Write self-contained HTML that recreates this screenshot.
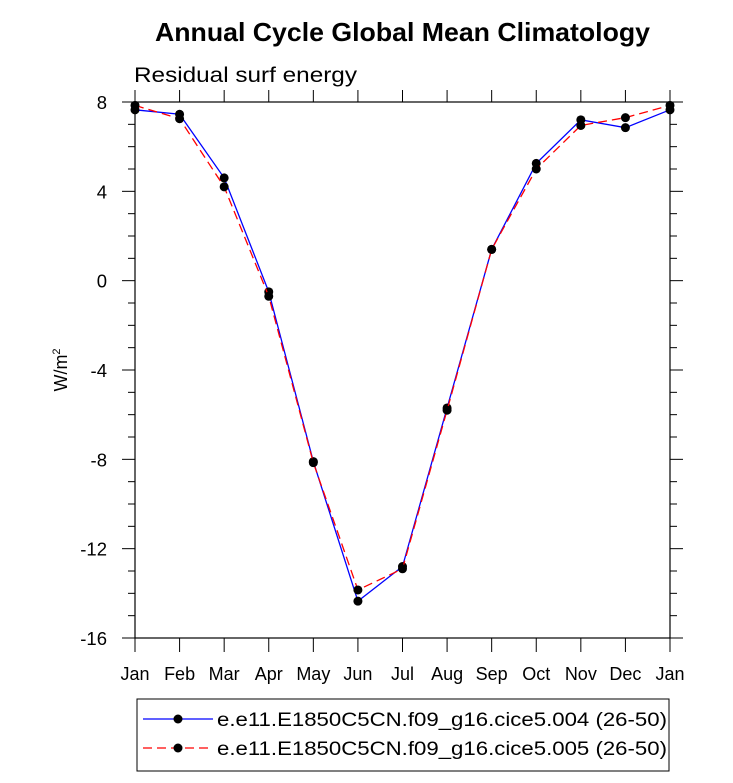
<!DOCTYPE html>
<html><head><meta charset="utf-8"><style>
body{margin:0;background:#fff;font-family:"Liberation Sans",sans-serif}
</style></head><body>
<svg id="chart" width="733" height="778" xmlns="http://www.w3.org/2000/svg" font-family="Liberation Sans, sans-serif">
<text x="155" y="41" font-size="26" font-weight="bold" textLength="495" lengthAdjust="spacingAndGlyphs">Annual Cycle Global Mean Climatology</text>
<text x="134" y="82" font-size="21" textLength="223" lengthAdjust="spacingAndGlyphs">Residual surf energy</text>
<text transform="translate(67,370) rotate(-90)" font-size="18" text-anchor="middle">W/m<tspan font-size="11" dy="-7">2</tspan></text>
<g id="axes"></g>
<g id="series"></g>
<rect x="137" y="699" width="532" height="72" fill="none" stroke="#000" stroke-width="1"/>
<g>
<line x1="143" y1="719" x2="213" y2="719" stroke="#00f" stroke-width="1.3"/>
<circle cx="178" cy="719" r="4.5" fill="#000"/>
<text x="217" y="726" font-size="19" textLength="450" lengthAdjust="spacingAndGlyphs">e.e11.E1850C5CN.f09_g16.cice5.004 (26-50)</text>
</g>
<g>
<line x1="143" y1="748" x2="213" y2="748" stroke="#f00" stroke-width="1.3" stroke-dasharray="9,5"/>
<circle cx="178" cy="748" r="4.5" fill="#000"/>
<text x="217" y="755" font-size="19" textLength="450" lengthAdjust="spacingAndGlyphs">e.e11.E1850C5CN.f09_g16.cice5.005 (26-50)</text>
</g>
</svg>
<script>
const months=["Jan","Feb","Mar","Apr","May","Jun","Jul","Aug","Sep","Oct","Nov","Dec","Jan"];
const series004=[7.65,7.45,4.6,-0.5,-8.1,-14.35,-12.8,-5.7,1.4,5.25,7.2,6.85,7.65];
const series005=[7.85,7.25,4.2,-0.7,-8.15,-13.85,-12.9,-5.8,1.4,5.0,6.95,7.3,7.85];
const yTicks=[8,4,0,-4,-8,-12,-16];
const NS="http://www.w3.org/2000/svg";
const L=135,R=670,T=102,B=638,ymin=-16,ymax=8;
function xs(i){return L+(R-L)*i/(months.length-1);}
function ys(v){return B-(v-ymin)/(ymax-ymin)*(B-T);}
function mk(tag,attrs,parent){const e=document.createElementNS(NS,tag);for(const k in attrs)e.setAttribute(k,attrs[k]);parent.appendChild(e);return e;}
const ax=document.getElementById('axes');
const frame=mk('rect',{x:L,y:T,width:R-L,height:B-T,fill:'none',stroke:'#000','stroke-width':1.2},ax);


for(let v=ymin;v<=ymax;v++){
  const y=ys(v);const major=(v%4===0);
  const len=major?13:7;
  mk('line',{x1:L-len,y1:y,x2:L,y2:y,stroke:'#000','stroke-width':1},ax);
  mk('line',{x1:R,y1:y,x2:R+len,y2:y,stroke:'#000','stroke-width':1},ax);
}
yTicks.forEach(v=>{
  const t=mk('text',{x:L-28,y:ys(v)+7,'font-size':18.5,'text-anchor':'end'},ax);
  t.textContent=v;
  
  
});
months.forEach((m,i)=>{
  const x=xs(i);
  mk('line',{x1:x,y1:B,x2:x,y2:B+14,stroke:'#000','stroke-width':1},ax);
  mk('line',{x1:x,y1:T,x2:x,y2:T-12,stroke:'#000','stroke-width':1},ax);
  const t=mk('text',{x:x,y:B+42,'font-size':18,'text-anchor':'middle'},ax);
  t.textContent=m;
  
  
});
const sg=document.getElementById('series');
function draw(vals,color,dash,name){
  const g=mk('g',{},sg);
  
  
  const pts=vals.map((v,i)=>xs(i)+','+ys(v)).join(' ');
  const a={points:pts,fill:'none',stroke:color,'stroke-width':1.3};
  if(dash)a['stroke-dasharray']='9,5';
  mk('polyline',a,g);
  vals.forEach((v,i)=>{
    const c=mk('circle',{cx:xs(i),cy:ys(v),r:4.5,fill:'#000'},g);
    
    
  });
}
draw(series004,'#00f',false,'series-004');
draw(series005,'#f00',true,'series-005');
</script>
</body></html>
